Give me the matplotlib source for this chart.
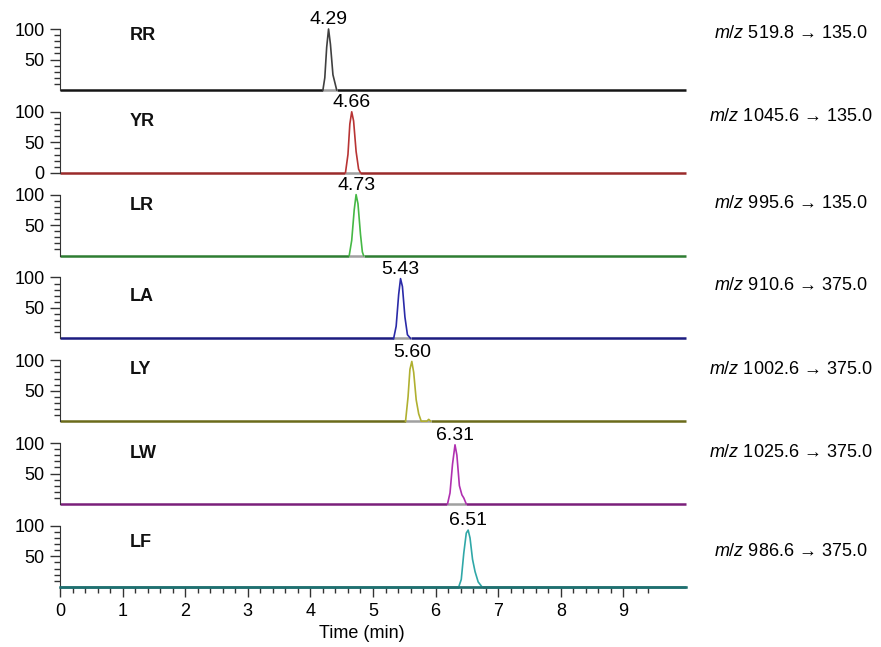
import numpy as np
import matplotlib
matplotlib.use("Agg")
import matplotlib.pyplot as plt
from matplotlib.ticker import FixedLocator

plt.rcParams['font.family'] = ['Liberation Sans', 'DejaVu Sans']
plt.rcParams['mathtext.fontset'] = 'custom'
plt.rcParams['mathtext.it'] = 'Liberation Sans:italic'
plt.rcParams['mathtext.rm'] = 'Liberation Sans'

# peptide names, retention times and transitions
names = ["RR", "YR", "LR", "LA", "LY", "LW", "LF"]
rt_labels = ["4.29", "4.66", "4.73", "5.43", "5.60", "6.31", "6.51"]
transitions = ["519.8 → 135.0", "1045.6 → 135.0", "995.6 → 135.0", "910.6 → 375.0",
               "1002.6 → 375.0", "1025.6 → 375.0", "986.6 → 375.0"]

# peak traces (time in min, relative intensity in %)
rr_t = [4.20, 4.23, 4.26, 4.29, 4.32, 4.36, 4.42]
rr_y = [0, 20, 70, 100, 75, 25, 0]
yr_t = [4.56, 4.60, 4.63, 4.66, 4.69, 4.73, 4.77, 4.80]
yr_y = [0, 30, 80, 100, 85, 35, 6, 0]
lr_t = [4.62, 4.66, 4.70, 4.73, 4.76, 4.80, 4.83, 4.85]
lr_y = [0, 25, 75, 100, 85, 35, 6, 0]
la_t = [5.33, 5.37, 5.41, 5.44, 5.47, 5.51, 5.55, 5.60]
la_y = [0, 20, 72, 98, 85, 35, 6, 0]
ly_t = [5.52, 5.56, 5.59, 5.62, 5.65, 5.69, 5.73, 5.77, 5.86, 5.89, 5.92]
ly_y = [0, 40, 85, 98, 80, 35, 12, 0, 0, 3, 0]
lw_t = [6.19, 6.23, 6.27, 6.31, 6.34, 6.38, 6.42, 6.45, 6.49]
lw_y = [0, 18, 65, 97, 80, 30, 15, 10, 0]
lf_t = [6.37, 6.41, 6.45, 6.49, 6.52, 6.55, 6.59, 6.63, 6.68, 6.74]
lf_y = [0, 12, 55, 88, 93, 80, 45, 25, 8, 0]

peak_t = [rr_t, yr_t, lr_t, la_t, ly_t, lw_t, lf_t]
peak_y = [rr_y, yr_y, lr_y, la_y, ly_y, lw_y, lf_y]

peak_colors = ["#404040", "#b83434", "#45b845", "#2a2aa8", "#b0b030", "#b030b0", "#30a8a8"]
base_colors = ["#151515", "#9a2a2a", "#2e7d32", "#1c1c80", "#6b6b1a", "#7a1f7a", "#1f7070"]

name_y = [90, 84, 82, 68, 84, 83, 73]
mz_y = [92, 92, 85, 87, 85, 84, 58]

W, H = 881, 647
fig = plt.figure(figsize=(W / 100, H / 100), dpi=100)

x0, x1 = 60, 686
for i in range(7):
    base_px = 90 + 82.8 * i
    ax = fig.add_axes([x0 / W, 1 - base_px / H, (x1 - x0) / W, 61 / H])
    ax.set_xlim(0, 10)
    ax.set_ylim(0, 100)

    t = peak_t[i]
    y = peak_y[i]
    ax.plot([0, t[0]], [0, 0], color=base_colors[i], lw=1.8, clip_on=False, solid_capstyle='butt')
    ax.plot([t[-1], 10], [0, 0], color=base_colors[i], lw=1.8, clip_on=False, solid_capstyle='butt')
    ax.plot([t[0], t[-1]], [0, 0], color="#a0a0a0", lw=1.8, clip_on=False, solid_capstyle='butt')
    ax.plot(t, y, color=peak_colors[i], lw=1.2, clip_on=False)

    top = int(np.argmax(y))
    ax.text(t[top], y[top] + 1, rt_labels[i], ha='center', va='bottom', fontsize=14, clip_on=False)
    ax.text(1.12, name_y[i], names[i], ha='left', va='center', fontsize=13,
            fontweight='bold', color="#111111")
    ax.text(11.68, mz_y[i], "$m/z$ " + transitions[i], ha='center', va='center',
            fontsize=13, clip_on=False)

    for s in ["top", "right", "bottom"]:
        ax.spines[s].set_visible(False)
    ax.spines["left"].set_bounds(0, 100)
    ax.spines["left"].set_color("#333333")

    if i == 1:
        ax.yaxis.set_major_locator(FixedLocator([0, 50, 100]))
    else:
        ax.yaxis.set_major_locator(FixedLocator([50, 100]))
    ax.yaxis.set_minor_locator(FixedLocator([10, 20, 30, 40, 60, 70, 80, 90]))
    ax.tick_params(axis='y', which='major', direction='out', length=7, width=1,
                   labelsize=13, pad=4, color="#333333")
    ax.tick_params(axis='y', which='minor', direction='out', length=4.5, width=1, color="#333333")

    if i == 6:
        ax.spines["bottom"].set_visible(True)
        ax.spines["bottom"].set_color(base_colors[i])
        ax.spines["bottom"].set_linewidth(1.8)
        ax.spines["bottom"].set_bounds(0, 10)
        ax.xaxis.set_major_locator(FixedLocator(list(range(10))))
        ax.xaxis.set_minor_locator(FixedLocator(np.arange(0, 9.5, 0.2)))
        ax.tick_params(axis='x', which='major', direction='out', length=7, width=1,
                       labelsize=13, pad=5, color="#333333")
        ax.tick_params(axis='x', which='minor', direction='out', length=4.5, width=1, color="#333333")
        ax.set_xlabel("Time (min)", fontsize=13)
        ax.xaxis.set_label_coords(0.482, -0.62)
    else:
        ax.set_xticks([])

fig.savefig("out.png", dpi=100)
